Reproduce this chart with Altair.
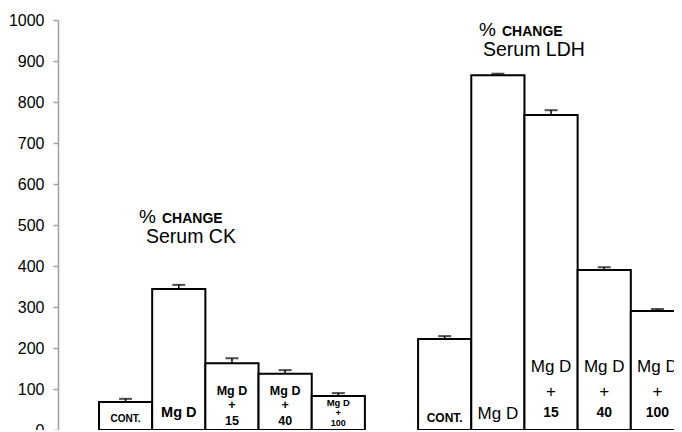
import altair as alt
import pandas as pd
import json

# ---- data ----
groups = ["CK", "LDH"]
conditions = ["CONT.", "Mg D", "Mg D + 15", "Mg D + 40", "Mg D + 100"]
doses = ["", "", "15", "40", "100"]
ck_means = [68, 344, 163, 137, 83]
ck_errs = [8, 10, 12, 9, 7]
ldh_means = [222, 865, 768, 390, 290]
ldh_errs = [7, 4, 12, 7, 5]
y_ticks = [0, 100, 200, 300, 400, 500, 600, 700, 800, 900, 1000]

rows = []
for g, means, errs in [("CK", ck_means, ck_errs), ("LDH", ldh_means, ldh_errs)]:
    for c, d, m, e in zip(conditions, doses, means, errs):
        rows.append({"key": f"{g} {c}", "group": g, "cond": c, "dose": d,
                     "mean": m, "err": e})
df = pd.DataFrame(rows)

keys = [f"CK {c}" for c in conditions] + ["gap"] + [f"LDH {c}" for c in conditions]

FONT = "Liberation Sans"

xs = alt.Scale(domain=keys, range=[41, 626], paddingInner=0, paddingOuter=0)
ys = alt.Scale(domain=[0, 1000], nice=False)

X = alt.X("key:N", scale=xs, axis=None, sort=keys)

base = alt.Chart(df)

bars = base.mark_bar(fill="white", stroke="black", strokeWidth=2, clip=True).encode(
    x=X,
    y=alt.Y("mean:Q", scale=ys,
            axis=alt.Axis(values=y_ticks, format="d", title=None, grid=False,
                          domainColor="#a0a0a0", tickColor="#a0a0a0", tickSize=5,
                          labelPadding=9, labelFontSize=16, labelColor="black",
                          labelFont=FONT, domainWidth=1.5, tickWidth=1.5)),
)

err_rule = base.mark_rule(color="black", strokeWidth=1.5, clip=True).transform_calculate(
    top="datum.mean + datum.err"
).encode(x=X, y=alt.Y("mean:Q", scale=ys), y2="top:Q")

err_cap = base.mark_tick(color="black", size=13, thickness=2, clip=True).transform_calculate(
    top="datum.mean + datum.err"
).encode(x=X, y=alt.Y("top:Q", scale=ys))


def lab(group, conds, text, y, size, weight="bold"):
    enc_text = alt.Text(text) if text == "dose:N" else alt.value(text)
    expr = f"datum.group === {json.dumps(group)} && indexof({json.dumps(conds)}, datum.cond) >= 0"
    return base.transform_filter(expr).mark_text(
        font=FONT, fontSize=size, fontWeight=weight, color="black",
        baseline="alphabetic", align="center").encode(
        x=X, y=alt.value(y), text=enc_text)


labels = [
    # CK group
    lab("CK", ["CONT."], "CONT.", 402, 10),
    lab("CK", ["Mg D"], "Mg D", 397, 14.5),
    lab("CK", ["Mg D + 15", "Mg D + 40"], "Mg D", 375, 12.5),
    lab("CK", ["Mg D + 15", "Mg D + 40"], "+", 389, 12.5),
    lab("CK", ["Mg D + 15", "Mg D + 40"], "dose:N", 405, 12.5),
    lab("CK", ["Mg D + 100"], "Mg D", 386, 9.5),
    lab("CK", ["Mg D + 100"], "+", 396, 9.5),
    lab("CK", ["Mg D + 100"], "dose:N", 406, 9),
    # LDH group
    lab("LDH", ["CONT."], "CONT.", 402, 12),
    lab("LDH", ["Mg D"], "Mg D", 399, 17, "normal"),
    lab("LDH", ["Mg D + 15", "Mg D + 40", "Mg D + 100"], "Mg D", 352, 17, "normal"),
    lab("LDH", ["Mg D + 15", "Mg D + 40", "Mg D + 100"], "+", 377, 17, "normal"),
    lab("LDH", ["Mg D + 15", "Mg D + 40", "Mg D + 100"], "dose:N", 397, 14),
]

titles_df = pd.DataFrame({"group": groups})


def title_text(group, text, x, y, size, weight):
    return alt.Chart(titles_df).transform_filter(
        f"datum.group === {json.dumps(group)}").mark_text(
        font=FONT, fontSize=size, fontWeight=weight, color="black",
        align="left", baseline="alphabetic").encode(
        x=alt.value(x), y=alt.value(y), text=alt.value(text))


titles = [
    title_text("CK", "%", 81, 203, 19, "normal"),
    title_text("CK", "CHANGE", 104, 203, 14, "bold"),
    title_text("CK", "Serum CK", 88, 223, 19.5, "normal"),
    title_text("LDH", "%", 421, 16, 19, "normal"),
    title_text("LDH", "CHANGE", 444, 16, 14, "bold"),
    title_text("LDH", "Serum LDH", 425, 36, 19.5, "normal"),
]

chart = alt.layer(bars, err_rule, err_cap, *labels, *titles).properties(
    width=616, height=410,
    padding={"left": 50, "top": 12, "right": 0, "bottom": 0},
    autosize=alt.AutoSizeParams(type="none"),
).configure_view(stroke=None)

chart.save("out.html", embed_options={"renderer": "svg", "actions": False})
